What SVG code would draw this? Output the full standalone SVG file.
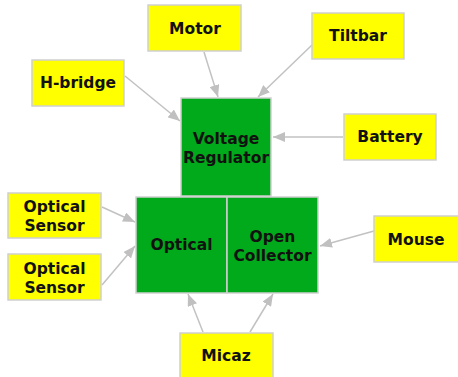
<svg xmlns="http://www.w3.org/2000/svg" width="458" height="377" viewBox="0 0 458 377">
<defs>
<style>
.y{fill:#ffff00;stroke:#cfcfcf;stroke-width:1.5}
.g{fill:#00aa1a;stroke:#cfcfcf;stroke-width:1.5}
text{font-family:"DejaVu Sans",Verdana,sans-serif;font-weight:bold;font-size:15.5px;fill:#111;text-anchor:middle;dominant-baseline:central}
.c line{stroke:#c2c2c2;stroke-width:1.5;marker-end:url(#a)}
</style>
<marker id="a" viewBox="0 0 12 10" refX="12" refY="5" markerWidth="12" markerHeight="10" markerUnits="userSpaceOnUse" orient="auto">
<path d="M0,0 L12,5 L0,10 z" fill="#c0c0c0"/>
</marker>
</defs>
<rect width="458" height="377" fill="#fff"/>
<g class="c">
<line x1="204" y1="52" x2="218" y2="97"/>
<line x1="312" y1="45" x2="258" y2="97"/>
<line x1="125" y1="76" x2="180" y2="121"/>
<line x1="343" y1="137" x2="273" y2="137"/>
<line x1="102" y1="207" x2="135" y2="222"/>
<line x1="102" y1="285" x2="135" y2="246"/>
<line x1="374" y1="231" x2="320" y2="246"/>
<line x1="203" y1="332" x2="188" y2="294"/>
<line x1="250" y1="332" x2="273" y2="294"/>
</g>
<g id="motor"><rect class="y" x="148" y="5" width="93" height="46"/><text x="195" y="29">Motor</text></g>
<g id="tiltbar"><rect class="y" x="312" y="13" width="92" height="46"/><text x="358" y="36">Tiltbar</text></g>
<g id="hbridge"><rect class="y" x="32" y="60" width="92" height="46"/><text x="78" y="83">H-bridge</text></g>
<g id="battery"><rect class="y" x="344" y="114" width="92" height="46"/><text x="390" y="137">Battery</text></g>
<g id="vreg"><rect class="g" x="181" y="98" width="90" height="98"/><text x="226" y="139">Voltage</text><text x="226" y="158">Regulator</text></g>
<g id="optsensor1"><rect class="y" x="8" y="193" width="93" height="45"/><text x="54.5" y="207">Optical</text><text x="54.5" y="226">Sensor</text></g>
<g id="optsensor2"><rect class="y" x="8" y="254" width="93" height="46"/><text x="54.5" y="269">Optical</text><text x="54.5" y="288">Sensor</text></g>
<g id="optical"><rect class="g" x="136" y="197" width="91" height="96"/><text x="181.5" y="245">Optical</text></g>
<g id="opencollector"><rect class="g" x="227" y="197" width="91" height="96"/><text x="272.5" y="237">Open</text><text x="272.5" y="256">Collector</text></g>
<g id="mouse"><rect class="y" x="374" y="216" width="90" height="46"/><text x="416" y="240">Mouse</text></g>
<g id="micaz"><rect class="y" x="180" y="333" width="93" height="50"/><text x="226" y="356">Micaz</text></g>
</svg>
